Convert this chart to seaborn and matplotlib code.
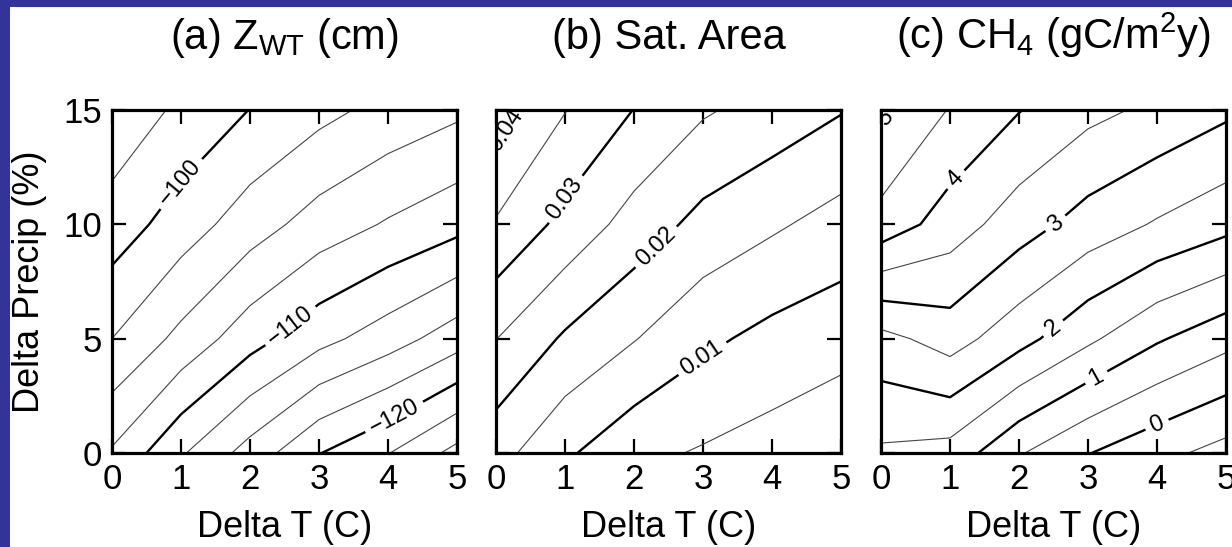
import numpy as np
import pandas as pd
import seaborn as sns
import matplotlib
matplotlib.use("Agg")
import matplotlib.pyplot as plt
from matplotlib.patches import Rectangle

# ---------------- data (model grid) ----------------
delta_t = [0, 1, 2, 3, 4, 5]          # Delta T (C)
delta_p = [0, 5, 10, 15]              # Delta Precip (%)

# rows: delta_p, columns: delta_t
zwt = [
    [-107.8, -112.2, -116.0, -119.9, -122.4, -125.8],
    [-102.5, -105.7, -109.0, -111.7, -113.8, -116.35],
    [-98.6, -101.2, -103.8, -106.1, -107.75, -109.2],
    [-95.7, -98.0, -100.05, -101.75, -103.3, -104.5],
]
sat_area = [
    [0.0169, 0.0108, 0.00635, 0.0045, 0.0029, 0.0009],
    [0.0251, 0.0193, 0.01525, 0.0111, 0.0085, 0.0069],
    [0.0345, 0.0285, 0.0230, 0.0184, 0.01575, 0.0131],
    [0.0424, 0.0352, 0.0299, 0.0256, 0.0230, 0.0203],
]
ch4 = [
    [1.42, 1.315, 0.545, 0.02, -0.35, -0.68],
    [2.34, 2.72, 2.18, 1.60, 1.06, 0.665],
    [4.32, 3.76, 3.23, 2.79, 2.45, 2.155],
    [5.09, 4.47, 4.02, 3.64, 3.39, 3.10],
]

titles = [r"(a) Z$\mathregular{_{WT}}$ (cm)",
          "(b) Sat. Area",
          r"(c) CH$\mathregular{_4}$ (gC/m$\mathregular{^2}$y)"]
xlabel = "Delta T (C)"
ylabel = "Delta Precip (%)"

minor_a = [-127.5, -125, -122.5, -117.5, -115, -112.5, -107.5, -105, -102.5, -97.5, -95]
major_a = [-120, -110, -100]
minor_b = [0.005, 0.015, 0.025, 0.035, 0.045]
major_b = [0.01, 0.02, 0.03, 0.04]
minor_c = [-0.5, 0.5, 1.5, 2.5, 3.5, 4.5]
major_c = [0, 1, 2, 3, 4, 5]

label_pos_a = [(0.99, 11.8), (2.61, 5.47), (4.03, 1.9)]
label_pos_b = [(0.2, 14.0), (0.92, 11.3), (2.26, 9.2), (2.98, 4.18)]
label_pos_c = [(0.09, 14.6), (1.08, 11.97), (2.56, 9.93), (2.51, 5.4), (3.14, 3.2), (4.0, 1.24)]

# ---------------- style ----------------
sns.set_theme(style="ticks")
plt.rcParams["font.family"] = ["Liberation Sans", "DejaVu Sans"]
plt.rcParams["mathtext.fontset"] = "custom"
plt.rcParams["mathtext.rm"] = "Liberation Sans"
plt.rcParams["axes.unicode_minus"] = True
plt.rcParams["contour.negative_linestyle"] = "solid"
for key in ["text.color", "axes.labelcolor", "xtick.color", "ytick.color", "axes.edgecolor"]:
    plt.rcParams[key] = "black"

fig = plt.figure(figsize=(12.32, 5.47), dpi=100)
fig.patch.set_facecolor("#333399")
W, H = 1232, 547
fig.add_artist(Rectangle((10 / W, 0), 1, (H - 7) / H, transform=fig.transFigure,
                         facecolor="white", edgecolor="none", zorder=0))

lefts = [112, 496, 881]
aw, ah = 345, 343
bottom = 547 - 453


def fmt_int(v):
    return f"{v:.0f}".replace("-", "\u2212")


def fmt_2(v):
    return f"{v:.2f}"


panels = [
    (zwt, minor_a, major_a, label_pos_a, fmt_int),
    (sat_area, minor_b, major_b, label_pos_b, fmt_2),
    (ch4, minor_c, major_c, label_pos_c, fmt_int),
]

for i, (Z, minors, majors, lpos, fmt) in enumerate(panels):
    ax = fig.add_axes([lefts[i] / W, bottom / H, aw / W, ah / H])
    ax.set_facecolor("white")
    Zarr = np.array(Z)
    ax.contour(delta_t, delta_p, Zarr, levels=minors, colors="#444444",
               linewidths=0.8, negative_linestyles="solid")
    cs = ax.contour(delta_t, delta_p, Zarr, levels=majors, colors="black",
                    linewidths=1.7, negative_linestyles="solid")
    ax.clabel(cs, manual=lpos, fmt=fmt, fontsize=17,
              inline=True, inline_spacing=6, colors="black")

    ax.set_xlim(0, 5)
    ax.set_ylim(0, 15)
    ax.set_xticks(delta_t)
    ax.set_yticks([0, 5, 10, 15])
    ax.tick_params(direction="in", top=True, right=True, length=10, width=1.6,
                   labelsize=25, pad=7, colors="black")
    for sp in ax.spines.values():
        sp.set_linewidth(2.3)
        sp.set_color("black")
        sp.set_visible(True)
    ax.set_xlabel(xlabel, fontsize=26, labelpad=10, color="black")
    if i == 0:
        ax.set_ylabel(ylabel, fontsize=26, labelpad=12, color="black")
    else:
        ax.tick_params(labelleft=False)
    ax.set_title(titles[i], fontsize=30, pad=44, color="black")

fig.savefig("out.png", dpi=100, facecolor=fig.get_facecolor())
